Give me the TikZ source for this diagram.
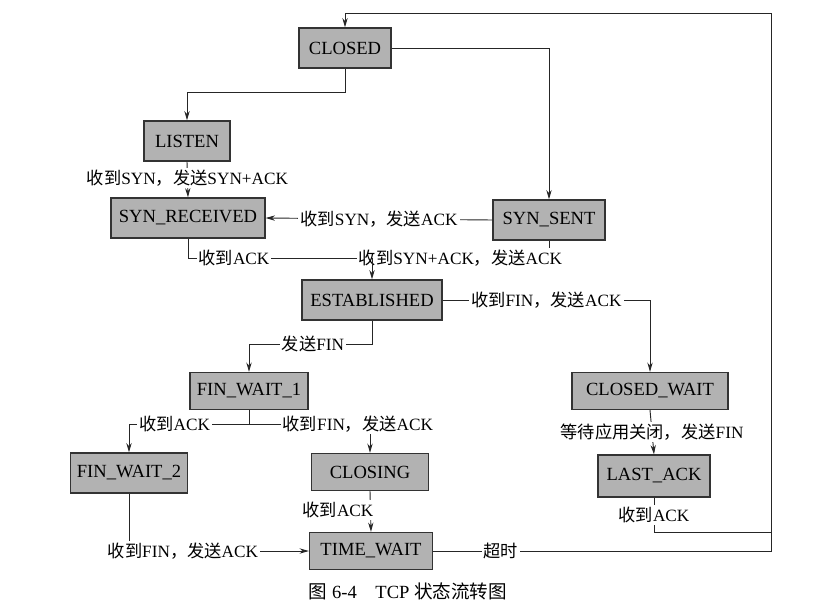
\documentclass[tikz,border=0pt]{standalone}
\usepackage{fontspec}
\setmainfont{Liberation Serif}
\newfontfamily\cjk{Noto Sans CJK SC}
\newcommand{\zh}[1]{{\cjk #1}}
\usetikzlibrary{arrows.meta}
\begin{document}
\begin{tikzpicture}[x=0.0265cm,y=-0.0265cm,
  st/.style={draw=black!80,line width=1pt,fill=black!30,minimum height=40*0.0265cm,inner xsep=5pt,font=\fontsize{14}{16}\selectfont},
  lb/.style={fill=white,inner sep=1.5pt,font=\fontsize{13}{15}\selectfont},
  ln/.style={draw=black!85,line width=0.7pt},
  ar/.style={ln,-{Stealth[length=7pt,width=4pt]}}]
\useasboundingbox (0,0) rectangle (815,613);
\node[st,minimum width=92*0.0265cm] (closed) at (345,48) {CLOSED};
\node[st,minimum width=86*0.0265cm] (listen) at (187,141) {LISTEN};
\node[st,minimum width=154*0.0265cm] (synr) at (188,218) {SYN\_RECEIVED};
\node[st,minimum width=112*0.0265cm] (syns) at (549,220) {SYN\_SENT};
\node[st,minimum width=140*0.0265cm] (est) at (372,300) {ESTABLISHED};
\node[st,minimum width=118*0.0265cm,minimum height=37*0.0265cm] (fw1) at (249,391) {FIN\_WAIT\_1};
\node[st,minimum width=156*0.0265cm,minimum height=37*0.0265cm] (cw) at (650,391) {CLOSED\_WAIT};
\node[st,minimum width=116*0.0265cm] (fw2) at (129,473) {FIN\_WAIT\_2};
\node[st,minimum width=117*0.0265cm,minimum height=37*0.0265cm] (closing) at (370,472) {CLOSING};
\node[st,minimum width=112*0.0265cm,minimum height=42*0.0265cm] (la) at (654,476) {LAST\_ACK};
\node[st,minimum width=123*0.0265cm,minimum height=37*0.0265cm] (tw) at (371,551) {TIME\_WAIT};
\node[font=\fontsize{14}{16}\selectfont] (cap) at (408,591) {\zh{图} 6-4\quad TCP \zh{状态流转图}};

\coordinate (c1) at (345,92); \coordinate (c2) at (187,92);
\coordinate (c3) at (549,48);
\coordinate (e1) at (188,258); \coordinate (e2) at (372,258); \coordinate (e3) at (549,258);
\coordinate (f1) at (650,300);
\coordinate (g1) at (372,344); \coordinate (g2) at (249,344);
\coordinate (h1) at (249,424); \coordinate (h2) at (129,424); \coordinate (h3) at (370,424);
\coordinate (t1) at (129,551);
\coordinate (r1) at (771,551); \coordinate (r2) at (771,13); \coordinate (r3) at (345,13);
\coordinate (l1) at (654,532); \coordinate (l2) at (771,532);

\draw[ar] (closed.south) -- (c1) -- (c2) -- (listen.north);
\draw[ar] (closed.east) -- (c3) -- (syns.north);
\draw[ar] (listen.south) -- node[lb,pos=0.45] (l_a) {\zh{收到}SYN\zh{，发送}SYN+ACK} (synr.north);
\draw[ar] (syns.west) -- node[lb] (l_b) {\zh{收到}SYN\zh{，发送}ACK} (synr.east);
\draw[ln] (synr.south) -- (e1) -- node[lb,pos=0.25] (l_c) {\zh{收到}ACK} (e2);
\draw[ln] (syns.south) -- (e3) -- node[lb,pos=0.5] (l_d) {\zh{收到}SYN+ACK\zh{，发送}ACK} (e2);
\draw[ar] (e2) -- (est.north);
\draw[ar] (est.east) -- node[lb,pos=0.5] (l_e) {\zh{收到}FIN\zh{，发送}ACK} (f1) -- (cw.north);
\draw[ar] (est.south) -- (g1) -- node[lb,pos=0.48] (l_f) {\zh{发送}FIN} (g2) -- (fw1.north);
\draw[ln] (fw1.south) -- (h1);
\draw[ar] (h1) -- node[lb,pos=0.62] (l_g) {\zh{收到}ACK} (h2) -- (fw2.north);
\draw[ar] (h1) -- node[lb,pos=0.9] (l_h) {\zh{收到}FIN\zh{，发送}ACK} (h3) -- (closing.north);
\draw[ar] (cw.south) -- node[lb] (l_i) {\zh{等待应用关闭，发送}FIN} (la.north);
\draw[ar] (fw2.south) -- (t1) -- node[lb,pos=0.3] (l_j) {\zh{收到}FIN\zh{，发送}ACK} (tw.west);
\draw[ar] (closing.south) -- (tw.north);
\node[lb] (l_k) at (338,510) {\zh{收到}ACK};
\draw[ln] (la.south) -- node[lb,pos=0.5] (l_l) {\zh{收到}ACK} (l1) -- (l2);
\draw[ar] (tw.east) -- node[lb,pos=0.2] (l_m) {\zh{超时}} (r1) -- (r2) -- (r3) -- (closed.north);
\end{tikzpicture}
\end{document}
